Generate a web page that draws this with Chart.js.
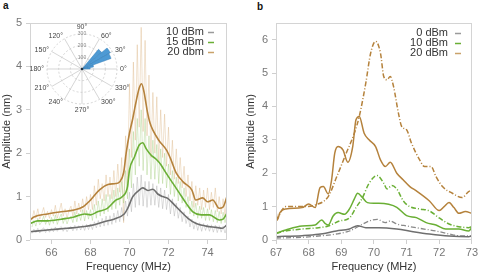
<!DOCTYPE html>
<html>
<head>
<meta charset="utf-8">
<script src="https://cdn.jsdelivr.net/npm/chart.js@4.4.1/dist/chart.umd.min.js"></script>
<style>
  body { margin: 0; background: #fff; width: 480px; height: 276px; position: relative; overflow: hidden; font-family: "Liberation Sans", Arial, sans-serif; }
  canvas { position: absolute; }
  .tag { position: absolute; font-weight: bold; font-size: 10px; color: #111; }
</style>
</head>
<body>
<div class="tag" style="left:3px;top:0px">a</div>
<div class="tag" style="left:257px;top:1px">b</div>
<canvas id="chartA" width="240" height="276" style="left:0;top:0"></canvas>
<canvas id="chartB" width="240" height="276" style="left:240px;top:0"></canvas>
<canvas id="polar" width="112" height="100" style="left:26px;top:19px"></canvas>
<script>
// ---- panel a: smoothed traces
var freqA20 = [64.9, 65.1, 65.8, 66.5, 67.16, 67.6, 68.0, 68.45, 68.9, 69.3, 69.5, 69.7, 69.83, 70.0, 70.17, 70.3, 70.5, 70.62, 70.75, 70.9, 71.05, 71.2, 71.5, 71.9, 72.1, 72.4, 72.75, 73.2, 73.4, 73.75, 74.0, 74.27, 74.6, 74.8, 75.0];
var ampA20  = [0.46, 0.53, 0.6, 0.65, 0.69, 0.76, 0.92, 1.15, 1.28, 1.3, 1.34, 1.55, 2.0, 2.46, 2.8, 3.1, 3.5, 3.6, 3.4, 3.0, 2.7, 2.53, 2.3, 2.07, 1.88, 1.54, 1.34, 1.15, 0.92, 0.97, 0.88, 0.92, 0.73, 0.76, 1.0];
var freqA15 = [64.9, 65.3, 65.8, 66.5, 67.16, 67.7, 68.0, 68.36, 68.87, 69.3, 69.64, 69.9, 70.0, 70.26, 70.5, 70.68, 70.86, 71.1, 71.37, 71.62, 71.88, 72.22, 72.56, 72.9, 73.25, 73.68, 74.1, 74.6, 74.8, 75.0];
var ampA15  = [0.38, 0.44, 0.44, 0.48, 0.53, 0.6, 0.58, 0.65, 0.73, 0.92, 1.0, 1.23, 1.61, 1.92, 2.19, 2.24, 2.1, 1.96, 1.86, 1.73, 1.54, 1.31, 1.08, 0.85, 0.65, 0.58, 0.58, 0.46, 0.48, 0.62];
var freqA10 = [64.9, 65.8, 66.8, 67.7, 68.2, 68.7, 69.2, 69.73, 69.9, 70.17, 70.5, 70.68, 70.94, 71.2, 71.45, 71.7, 71.96, 72.3, 72.65, 73.0, 73.42, 73.93, 74.45, 74.75, 75.0];
var ampA10  = [0.19, 0.23, 0.27, 0.31, 0.35, 0.42, 0.48, 0.6, 0.72, 1.0, 1.15, 1.2, 1.14, 1.17, 1.06, 1.0, 0.96, 0.81, 0.65, 0.5, 0.38, 0.32, 0.29, 0.27, 0.35];

// ---- panel a: raw traces, 0.1 MHz steps from 65.0 to 75.0
var rawFreq = [
  65.0, 65.1, 65.2, 65.3, 65.4, 65.5, 65.6, 65.7, 65.8, 65.9,
  66.0, 66.1, 66.2, 66.3, 66.4, 66.5, 66.6, 66.7, 66.8, 66.9,
  67.0, 67.1, 67.2, 67.3, 67.4, 67.5, 67.6, 67.7, 67.8, 67.9,
  68.0, 68.1, 68.2, 68.3, 68.4, 68.5, 68.6, 68.7, 68.8, 68.9,
  69.0, 69.1, 69.2, 69.3, 69.4, 69.5, 69.6, 69.7, 69.8, 69.9,
  70.0, 70.1, 70.2, 70.3, 70.4, 70.5, 70.6, 70.7, 70.8, 70.9,
  71.0, 71.1, 71.2, 71.3, 71.4, 71.5, 71.6, 71.7, 71.8, 71.9,
  72.0, 72.1, 72.2, 72.3, 72.4, 72.5, 72.6, 72.7, 72.8, 72.9,
  73.0, 73.1, 73.2, 73.3, 73.4, 73.5, 73.6, 73.7, 73.8, 73.9,
  74.0, 74.1, 74.2, 74.3, 74.4, 74.5, 74.6, 74.7, 74.8, 74.9,
  75.0];
var rawA20 = [
  0.45, 0.68, 0.5, 0.72, 0.48, 0.6, 0.75, 0.52, 0.66, 0.5,
  0.7, 0.55, 0.8, 0.5, 0.66, 0.85, 0.55, 0.72, 0.5, 0.68,
  0.78, 0.55, 0.9, 0.6, 0.85, 0.65, 0.95, 0.62, 1.0, 0.7,
  1.05, 0.7, 1.25, 0.8, 1.4, 0.95, 1.3, 0.9, 1.5, 1.0,
  1.45, 0.95, 1.6, 1.0, 1.75, 1.1, 1.9, 0.4, 2.4, 1.3,
  3.6, 1.9, 4.1, 2.3, 4.5, 2.6, 4.9, 2.5, 4.6, 2.4,
  3.8, 1.9, 3.4, 2.0, 3.3, 1.8, 3.0, 1.9, 2.9, 1.7,
  2.6, 1.5, 2.3, 1.4, 2.1, 1.3, 1.9, 1.2, 1.7, 1.0,
  1.5, 0.9, 1.35, 0.75, 1.25, 0.8, 1.2, 0.7, 1.15, 0.75,
  1.2, 0.7, 1.1, 0.75, 1.2, 0.65, 1.0, 0.6, 0.95, 0.55,
  1.1];
var rawA15 = [
  0.3, 0.45, 0.32, 0.5, 0.35, 0.42, 0.55, 0.36, 0.48, 0.34,
  0.52, 0.38, 0.58, 0.36, 0.5, 0.6, 0.38, 0.52, 0.37, 0.5,
  0.55, 0.4, 0.65, 0.42, 0.62, 0.45, 0.7, 0.44, 0.68, 0.48,
  0.7, 0.45, 0.82, 0.5, 0.9, 0.55, 0.95, 0.6, 1.05, 0.65,
  1.05, 0.7, 1.15, 0.72, 1.2, 0.8, 1.35, 0.85, 1.6, 0.95,
  2.1, 1.2, 2.5, 1.5, 2.8, 1.7, 3.0, 1.6, 2.8, 1.5,
  2.4, 1.4, 2.3, 1.4, 2.2, 1.3, 2.1, 1.3, 2.0, 1.2,
  1.75, 1.05, 1.6, 1.0, 1.45, 0.9, 1.35, 0.85, 1.2, 0.75,
  1.0, 0.6, 0.9, 0.55, 0.85, 0.5, 0.78, 0.5, 0.75, 0.45,
  0.72, 0.45, 0.7, 0.42, 0.68, 0.4, 0.66, 0.38, 0.64, 0.4,
  0.62];
var rawA10 = [
  0.15, 0.25, 0.17, 0.27, 0.16, 0.24, 0.28, 0.17, 0.26, 0.18,
  0.28, 0.19, 0.3, 0.2, 0.27, 0.31, 0.2, 0.29, 0.19, 0.28,
  0.31, 0.21, 0.34, 0.22, 0.33, 0.23, 0.35, 0.22, 0.36, 0.24,
  0.37, 0.24, 0.42, 0.28, 0.45, 0.3, 0.5, 0.32, 0.55, 0.34,
  0.56, 0.36, 0.62, 0.4, 0.68, 0.42, 0.75, 0.45, 0.9, 0.55,
  1.1, 0.65, 1.3, 0.75, 1.45, 0.8, 1.5, 0.78, 1.35, 0.75,
  1.35, 0.8, 1.3, 0.8, 1.25, 0.75, 1.2, 0.72, 1.15, 0.7,
  1.05, 0.6, 0.95, 0.55, 0.85, 0.5, 0.75, 0.42, 0.65, 0.38,
  0.55, 0.3, 0.48, 0.25, 0.42, 0.22, 0.4, 0.2, 0.38, 0.22,
  0.36, 0.2, 0.35, 0.18, 0.34, 0.17, 0.33, 0.18, 0.32, 0.16,
  0.34];

// ---- panel b
var freqB20 = [67.0, 67.04, 67.12, 67.3, 67.8, 68.0, 68.2, 68.35, 68.45, 68.6, 68.7, 68.8, 68.9, 69.05, 69.2, 69.35, 69.45, 69.55, 69.7, 69.85, 70.05, 70.2, 70.35, 70.5, 70.7, 70.9, 71.1, 71.3, 71.7, 72.0, 72.15, 72.3, 72.45, 72.6, 72.8, 73.0];
var ampB20  = [0.87, 0.6, 0.82, 0.93, 0.97, 1.08, 0.97, 1.57, 1.6, 1.38, 1.78, 2.6, 2.8, 2.7, 2.33, 2.8, 3.6, 3.7, 3.2, 3.0, 2.8, 2.4, 2.2, 2.33, 2.0, 1.8, 1.6, 1.47, 1.17, 0.88, 1.0, 1.12, 0.97, 0.8, 0.85, 0.8];
var freqB20d = [67.0, 67.3, 67.9, 68.2, 68.6, 68.85, 69.15, 69.4, 69.55, 69.75, 69.9, 70.05, 70.2, 70.3, 70.4, 70.5, 70.6, 70.75, 70.85, 71.0, 71.15, 71.4, 71.55, 71.75, 71.9, 72.1, 72.4, 72.7, 72.9, 73.0];
var ampB20d  = [0.57, 1.0, 1.0, 1.05, 1.3, 1.87, 2.6, 3.2, 3.7, 4.7, 5.6, 5.95, 5.6, 4.9, 4.8, 4.9, 4.6, 3.8, 3.4, 3.3, 2.9, 2.4, 2.2, 2.2, 1.9, 1.6, 1.4, 1.27, 1.45, 1.5];
var freqB10 = [67.0, 67.3, 67.8, 68.2, 68.4, 68.5, 68.6, 68.75, 68.9, 69.1, 69.25, 69.4, 69.5, 69.65, 69.8, 70.0, 70.15, 70.45, 70.7, 71.0, 71.3, 71.6, 71.9, 72.2, 72.6, 72.9, 73.0];
var ampB10  = [0.2, 0.3, 0.42, 0.45, 0.6, 0.5, 0.45, 0.72, 0.82, 0.77, 0.93, 1.23, 1.4, 1.27, 1.12, 1.1, 1.1, 1.07, 0.98, 0.73, 0.67, 0.52, 0.45, 0.33, 0.33, 0.27, 0.37];
var freqB10d = [67.0, 67.3, 67.8, 68.3, 68.6, 68.95, 69.25, 69.45, 69.65, 69.85, 70.1, 70.3, 70.4, 70.55, 70.7, 70.9, 71.1, 71.4, 71.7, 72.0, 72.3, 72.6, 72.9, 73.0];
var ampB10d  = [0.2, 0.27, 0.33, 0.37, 0.42, 0.57, 0.66, 0.97, 1.27, 1.7, 1.93, 1.7, 1.53, 1.63, 1.53, 1.17, 1.0, 0.93, 0.87, 0.66, 0.48, 0.4, 0.37, 0.4];
var freqB0 = [67.0, 67.8, 68.3, 68.85, 69.25, 69.5, 69.75, 70.0, 70.15, 70.7, 71.2, 71.7, 72.3, 72.9, 73.0];
var ampB0  = [0.1, 0.13, 0.17, 0.27, 0.33, 0.43, 0.37, 0.37, 0.37, 0.33, 0.25, 0.18, 0.12, 0.1, 0.12];
var freqB0d = [67.0, 67.8, 68.3, 68.85, 69.25, 69.55, 69.85, 70.1, 70.35, 70.5, 70.7, 71.0, 71.4, 71.9, 72.3, 72.7, 73.0];
var ampB0d  = [0.06, 0.08, 0.12, 0.18, 0.27, 0.42, 0.57, 0.62, 0.52, 0.57, 0.48, 0.42, 0.35, 0.27, 0.18, 0.12, 0.12];

// ---- inset: 10 degree bins, clockwise from 90 deg
var polarLabels = ['90°','','','60°','','','30°','','','0°','','','330°','','','300°','','','270°','','','240°','','','210°','','','180°','','','150°','','','120°','',''];
var polarCounts = [0,0,0,0,220,280,265,100,70,0,0,0,0,0,0,0,0,0,0,0,0,0,0,0,0,0,0,0,0,0,0,0,0,0,0,0];

var legendA = ['10 dBm', '15 dBm', '20 dbm'];
var legendB = ['0 dBm', '10 dBm', '20 dBm'];

var BROWN = '#b5823c', GREEN = '#6aaf35', GREY = '#6f6f6f';

function pts(fs, vs) {
  return fs.map(function (f, i) { return { x: f, y: vs[i] }; });
}

function frameAndKey(labels, colors, textRight, lineX0, lineX1, rowY) {
  return {
    id: 'frameAndKey',
    afterDraw: function (chart) {
      var ctx = chart.ctx, a = chart.chartArea;
      ctx.save();
      ctx.strokeStyle = '#d4d4d4';
      ctx.lineWidth = 1;
      ctx.strokeRect(Math.round(a.left) + 0.5, Math.round(a.top) + 0.5, Math.round(a.right - a.left) - 1, Math.round(a.bottom - a.top) - 1);
      ctx.font = '11px "Liberation Sans", Arial, sans-serif';
      ctx.textAlign = 'right';
      ctx.textBaseline = 'middle';
      labels.forEach(function (t, i) {
        ctx.fillStyle = '#333';
        ctx.fillText(t, textRight, rowY[i]);
        ctx.strokeStyle = colors[i];
        ctx.lineWidth = 1.5;
        ctx.beginPath();
        ctx.moveTo(lineX0, rowY[i] + 0.5);
        ctx.lineTo(lineX1, rowY[i] + 0.5);
        ctx.stroke();
      });
      ctx.restore();
    }
  };
}

// angle labels of the inset, placed just outside the outer ring
var angleText = {
  id: 'angleText',
  afterDraw: function (chart) {
    var ctx = chart.ctx, r = chart.scales.r;
    ctx.save();
    ctx.font = '7px "Liberation Sans", Arial, sans-serif';
    ctx.fillStyle = '#444';
    polarLabels.forEach(function (t, i) {
      if (!t) return;
      var p = r.getPointPosition(i, r.drawingArea + 3);
      var c = Math.cos(p.angle), s = Math.sin(p.angle);
      ctx.textAlign = c > 0.2 ? 'left' : (c < -0.2 ? 'right' : 'center');
      ctx.textBaseline = s > 0.9 ? 'top' : (s < -0.9 ? 'bottom' : 'middle');
      ctx.fillText(t, p.x, p.y);
    });
    ctx.fillStyle = '#234';
    ctx.beginPath();
    ctx.arc(r.xCenter, r.yCenter, 1.3, 0, Math.PI * 2);
    ctx.fill();
    ctx.restore();
  }
};

function axes(xmin, xmax, xstep, ymax, yWidth) {
  return {
    x: {
      type: 'linear', min: xmin, max: xmax,
      ticks: { stepSize: xstep, includeBounds: false, color: '#777', font: { size: 11 }, padding: 2, maxRotation: 0 },
      grid: { display: true, drawOnChartArea: false, tickLength: 4, color: '#cfcfcf' },
      border: { display: false },
      title: { display: true, text: 'Frequency (MHz)', color: '#333', font: { size: 11 }, padding: 0 },
      afterFit: function (s) { s.height = 34; }
    },
    y: {
      min: 0, max: ymax,
      ticks: { stepSize: 1, includeBounds: false, color: '#777', font: { size: 11 }, padding: 4 },
      grid: { display: true, drawOnChartArea: false, tickLength: 4, color: '#cfcfcf' },
      border: { display: false },
      title: { display: true, text: 'Amplitude (nm)', color: '#333', font: { size: 11 }, padding: 0 },
      afterFit: function (s) { s.width = yWidth; }
    }
  };
}

function line(data, color, width, dash, order) {
  return {
    data: data, borderColor: color, borderWidth: width, borderDash: dash || [],
    pointRadius: 0, fill: false, cubicInterpolationMode: 'monotone', order: order || 1
  };
}

new Chart(document.getElementById('chartA'), {
  type: 'line',
  data: {
    datasets: [
      line(pts(freqA20, ampA20), BROWN, 1.6, null, 1),
      line(pts(freqA15, ampA15), GREEN, 1.6, null, 1),
      line(pts(freqA10, ampA10), GREY, 1.6, null, 1),
      Object.assign(line(pts(rawFreq, rawA10), 'rgba(160,160,160,0.45)', 0.8, null, 3), { cubicInterpolationMode: 'default', tension: 0 }),
      Object.assign(line(pts(rawFreq, rawA15), 'rgba(150,200,110,0.45)', 0.8, null, 2), { cubicInterpolationMode: 'default', tension: 0 }),
      Object.assign(line(pts(rawFreq, rawA20), 'rgba(215,175,120,0.45)', 0.8, null, 4), { cubicInterpolationMode: 'default', tension: 0 })
    ]
  },
  options: {
    responsive: false, animation: false, devicePixelRatio: 1,
    layout: { padding: { top: 23, right: 13, bottom: 2, left: 0 } },
    plugins: { legend: { display: false }, tooltip: { enabled: false } },
    scales: axes(64.9, 75, 2, 5, 30)
  },
  plugins: [frameAndKey(legendA, ['#9a9a9a', GREEN, '#c9a26a'], 204, 208, 214, [32, 42, 52])]
});

new Chart(document.getElementById('chartB'), {
  type: 'line',
  data: {
    datasets: [
      line(pts(freqB20, ampB20), BROWN, 1.5),
      line(pts(freqB20d, ampB20d), BROWN, 1.5, [5, 2, 1, 2]),
      line(pts(freqB10, ampB10), GREEN, 1.5),
      line(pts(freqB10d, ampB10d), GREEN, 1.5, [5, 2, 1, 2]),
      line(pts(freqB0, ampB0), GREY, 1.5),
      line(pts(freqB0d, ampB0d), '#8a8a8a', 1.3, [5, 2, 1, 2])
    ]
  },
  options: {
    responsive: false, animation: false, devicePixelRatio: 1,
    layout: { padding: { top: 23, right: 8, bottom: 2, left: 4 } },
    plugins: { legend: { display: false }, tooltip: { enabled: false } },
    scales: axes(67, 73, 1, 6.5, 32)
  },
  plugins: [frameAndKey(legendB, ['#9a9a9a', GREEN, '#c9a26a'], 208, 215, 221, [33, 43, 53])]
});

new Chart(document.getElementById('polar'), {
  type: 'polarArea',
  data: {
    labels: polarLabels,
    datasets: [{ data: polarCounts, backgroundColor: '#4d9ad4', borderColor: '#3a80b8', borderWidth: 0.5 }]
  },
  options: {
    responsive: false, animation: false, devicePixelRatio: 1,
    layout: { padding: { left: 18, right: 18, top: 12, bottom: 12 } },
    plugins: { legend: { display: false }, tooltip: { enabled: false } },
    scales: {
      r: {
        min: 0, max: 300, startAngle: 0,
        ticks: { stepSize: 100, color: '#888', font: { size: 5 }, showLabelBackdrop: false, backdropPadding: 0 },
        grid: { color: '#c4c4c4', lineWidth: 0.7, circular: true },
        border: { dash: [2, 2] },
        angleLines: {
          display: true, lineWidth: 0.7,
          color: function (c) { return c.label ? '#c4c4c4' : 'rgba(0,0,0,0)'; }
        },
        pointLabels: { display: false }
      }
    }
  },
  plugins: [angleText]
});
</script>
</body>
</html>
